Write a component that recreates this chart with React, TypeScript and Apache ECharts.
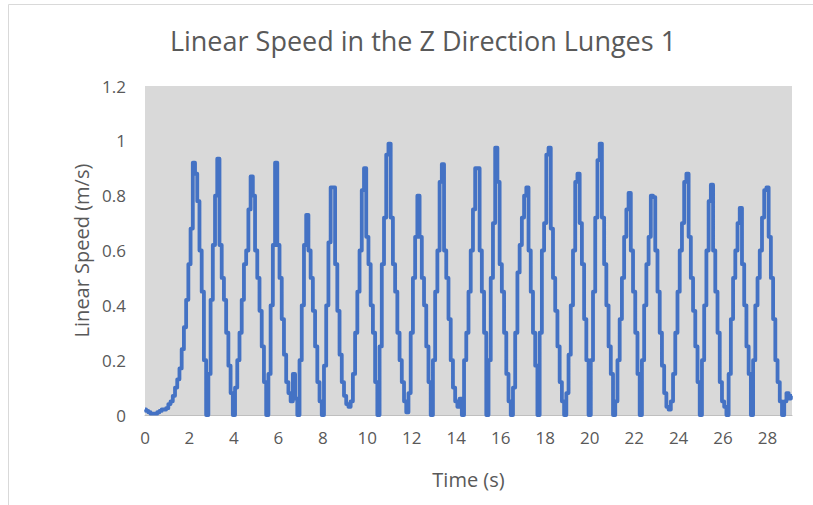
import React, { useEffect, useRef } from "react";
import * as echarts from "echarts";

const TITLE = "Linear Speed in the Z Direction Lunges 1";
const X_NAME = "Time (s)";
const Y_NAME = "Linear Speed (m/s)";
const SAMPLE_STEP_S = 0.1;
const X_MAX = 29.1;
const Y_TICKS = [0, 0.2, 0.4, 0.6, 0.8, 1, 1.2];

// speed samples (m/s), one every 0.1 s starting at t = 0
const speed0to7 = [
  0.02, 0.015, 0.01, 0.005, 0.005, 0.005, 0.01, 0.015, 0.02, 0.02,
  0.025, 0.04, 0.05, 0.07, 0.1, 0.13, 0.17, 0.24, 0.32, 0.42,
  0.55, 0.68, 0.92, 0.88, 0.78, 0.6, 0.45, 0.2, 0.0, 0.15,
  0.42, 0.62, 0.8, 0.935, 0.62, 0.5, 0.42, 0.3, 0.18, 0.08,
  0.0, 0.1, 0.2, 0.3, 0.42, 0.55, 0.6, 0.75, 0.87, 0.8,
  0.6, 0.5, 0.38, 0.25, 0.12, 0.0, 0.15, 0.4, 0.62, 0.92,
  0.62, 0.5, 0.35, 0.22, 0.12, 0.08, 0.05, 0.15, 0.06, 0.0,
];
const speed7to14 = [
  0.2, 0.4, 0.62, 0.73, 0.6, 0.5, 0.38, 0.25, 0.12, 0.05,
  0.0, 0.18, 0.4, 0.63, 0.83, 0.83, 0.55, 0.38, 0.22, 0.12,
  0.07, 0.04, 0.03, 0.05, 0.15, 0.3, 0.45, 0.6, 0.82, 0.9,
  0.65, 0.55, 0.4, 0.3, 0.12, 0.0, 0.25, 0.55, 0.72, 0.95,
  0.99, 0.72, 0.55, 0.45, 0.3, 0.2, 0.12, 0.05, 0.01, 0.08,
  0.3, 0.5, 0.65, 0.8, 0.65, 0.5, 0.4, 0.25, 0.12, 0.0,
  0.2, 0.45, 0.6, 0.85, 0.915, 0.6, 0.5, 0.35, 0.2, 0.1,
];
const speed14to21 = [
  0.05, 0.03, 0.06, 0.0, 0.2, 0.3, 0.45, 0.6, 0.75, 0.9,
  0.9, 0.6, 0.45, 0.3, 0.0, 0.2, 0.5, 0.7, 0.975, 0.85,
  0.55, 0.45, 0.3, 0.15, 0.05, 0.0, 0.1, 0.3, 0.52, 0.62,
  0.72, 0.8, 0.83, 0.6, 0.45, 0.3, 0.18, 0.0, 0.3, 0.6,
  0.7, 0.95, 0.975, 0.68, 0.5, 0.38, 0.25, 0.12, 0.05, 0.0,
  0.08, 0.22, 0.4, 0.6, 0.85, 0.88, 0.7, 0.55, 0.35, 0.2,
  0.0, 0.2, 0.45, 0.72, 0.93, 0.99, 0.72, 0.55, 0.4, 0.25,
];
const speed21to29 = [
  0.15, 0.0, 0.05, 0.2, 0.35, 0.5, 0.65, 0.75, 0.81, 0.6,
  0.45, 0.3, 0.15, 0.0, 0.2, 0.4, 0.55, 0.65, 0.8, 0.795,
  0.6, 0.45, 0.3, 0.18, 0.08, 0.03, 0.02, 0.05, 0.15, 0.3,
  0.45, 0.6, 0.7, 0.85, 0.88, 0.65, 0.5, 0.38, 0.25, 0.12,
  0.0, 0.2, 0.4, 0.6, 0.78, 0.84, 0.6, 0.45, 0.3, 0.12,
  0.05, 0.03, 0.0, 0.15, 0.35, 0.5, 0.6, 0.7, 0.755, 0.55,
  0.4, 0.25, 0.15, 0.0, 0.2, 0.4, 0.5, 0.6, 0.72, 0.82,
  0.83, 0.65, 0.5, 0.35, 0.2, 0.12, 0.05, 0.0, 0.05, 0.08,
  0.06, 0.07,
];

const speeds = [...speed0to7, ...speed7to14, ...speed14to21, ...speed21to29];

export default function App() {
  const ref = useRef<HTMLDivElement>(null);
  useEffect(() => {
    document.body.style.margin = "0";
    const chart = echarts.init(ref.current!, null, { renderer: "svg" });
    const data = speeds.map((v, i) => [Number((i * SAMPLE_STEP_S).toFixed(2)), v]);
    const font = "'Open Sans', 'Liberation Sans', sans-serif";
    chart.setOption({
      animation: false,
      backgroundColor: "#ffffff",
      title: {
        text: TITLE,
        left: 418,
        top: 22,
        textAlign: "center",
        textStyle: { fontFamily: font, fontSize: 27, fontWeight: "normal", color: "#595959" },
      },
      graphic: [
        {
          type: "rect",
          shape: { x: 8.5, y: 4.5, width: 830, height: 520 },
          style: { fill: "none", stroke: "#d9d9d9", lineWidth: 1 },
          silent: true,
        },
      ],
      grid: {
        left: 145,
        right: 21,
        top: 86,
        bottom: 90,
        show: true,
        backgroundColor: "#d9d9d9",
        borderWidth: 0,
      },
      xAxis: {
        type: "value",
        min: 0,
        max: X_MAX,
        interval: 2,
        name: X_NAME,
        nameLocation: "middle",
        nameGap: 54,
        nameTextStyle: { fontFamily: font, fontSize: 20, color: "#595959" },
        axisLine: { show: true, lineStyle: { color: "#bfbfbf", width: 1 } },
        axisTick: { show: false },
        splitLine: { show: false },
        axisLabel: {
          fontFamily: font,
          fontSize: 17,
          color: "#595959",
          margin: 14,
          showMaxLabel: false,
          formatter: (v: number) => (Math.abs(v - Math.round(v)) < 1e-6 && Math.round(v) % 2 === 0 ? String(Math.round(v)) : ""),
        },
      },
      yAxis: {
        type: "value",
        min: 0,
        max: 1.2,
        interval: 0.2,
        name: Y_NAME,
        nameLocation: "middle",
        nameGap: 52,
        nameTextStyle: { fontFamily: font, fontSize: 20, color: "#595959" },
        axisLine: { show: false },
        axisTick: { show: false },
        splitLine: { show: false },
        axisLabel: {
          fontFamily: font,
          fontSize: 17,
          color: "#595959",
          margin: 19,
          formatter: (v: number) => {
            const t = Y_TICKS.find((y) => Math.abs(y - v) < 1e-6);
            return t === undefined ? "" : String(t);
          },
        },
      },
      series: [
        {
          type: "line",
          data,
          step: "middle",
          showSymbol: false,
          lineStyle: { color: "#4472c4", width: 3.8, join: "round" },
        },
      ],
    });
    return () => chart.dispose();
  }, []);
  return <div ref={ref} style={{ width: 813, height: 505 }} />;
}
